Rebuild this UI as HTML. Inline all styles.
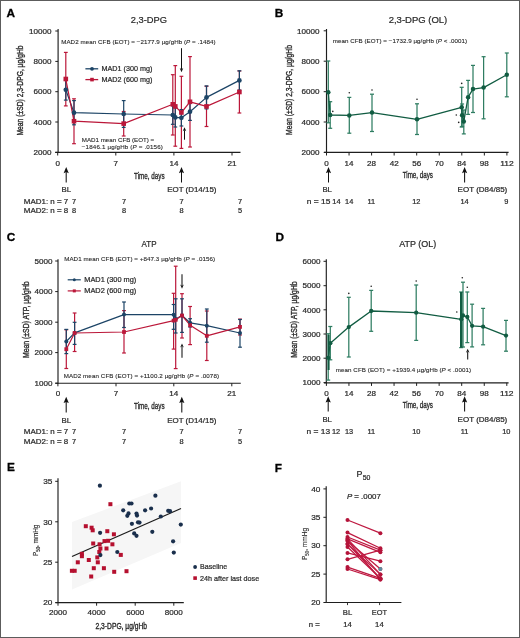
<!DOCTYPE html>
<html><head><meta charset="utf-8"><title>Figure</title>
<style>
html,body{margin:0;padding:0;background:#fff;}
#fig{position:relative;width:520px;height:638px;overflow:hidden;box-sizing:border-box;border:1px solid #5c5c5c;background:#fff;}
svg{position:absolute;left:-1px;top:-1px;will-change:transform;}
text{font-family:"Liberation Sans", sans-serif;fill:#2a2a2a;stroke:#2a2a2a;stroke-width:0.22px;}
</style></head><body>
<div id="fig">
<svg width="520" height="638" viewBox="0 0 520 638">
<text x="6.60" y="16.60" font-size="11.8" font-weight="bold" fill="#000" style="fill:#000;stroke:#000;stroke-width:0.3">A</text>
<text x="130.80" y="22.80" font-size="9.4" textLength="36.20" lengthAdjust="spacingAndGlyphs">2,3-DPG</text>
<line x1="58.10" y1="29.00" x2="58.10" y2="152.90" stroke="#1e1e1e" stroke-width="1.15"/>
<line x1="55.30" y1="31.00" x2="58.10" y2="31.00" stroke="#1e1e1e" stroke-width="1.0"/>
<text x="51.60" y="33.70" font-size="7.6" text-anchor="end" textLength="22.50" lengthAdjust="spacingAndGlyphs">10000</text>
<line x1="55.30" y1="61.40" x2="58.10" y2="61.40" stroke="#1e1e1e" stroke-width="1.0"/>
<text x="51.60" y="64.10" font-size="7.6" text-anchor="end" textLength="18.00" lengthAdjust="spacingAndGlyphs">8000</text>
<line x1="55.30" y1="91.70" x2="58.10" y2="91.70" stroke="#1e1e1e" stroke-width="1.0"/>
<text x="51.60" y="94.40" font-size="7.6" text-anchor="end" textLength="18.00" lengthAdjust="spacingAndGlyphs">6000</text>
<line x1="55.30" y1="122.00" x2="58.10" y2="122.00" stroke="#1e1e1e" stroke-width="1.0"/>
<text x="51.60" y="124.70" font-size="7.6" text-anchor="end" textLength="18.00" lengthAdjust="spacingAndGlyphs">4000</text>
<line x1="55.30" y1="152.40" x2="58.10" y2="152.40" stroke="#1e1e1e" stroke-width="1.0"/>
<text x="51.60" y="155.10" font-size="7.6" text-anchor="end" textLength="18.00" lengthAdjust="spacingAndGlyphs">2000</text>
<text x="23.30" y="135.50" font-size="9.0" textLength="90.00" lengthAdjust="spacingAndGlyphs" transform="rotate(-90 23.30 135.50)" style="stroke-width:0.35">Mean (±SD) 2,3-DPG, µg/gHb</text>
<line x1="55.20" y1="152.40" x2="240.50" y2="152.40" stroke="#1e1e1e" stroke-width="1.15"/>
<line x1="57.70" y1="152.40" x2="57.70" y2="155.50" stroke="#1e1e1e" stroke-width="1.0"/>
<text x="57.70" y="165.60" font-size="7.6" text-anchor="middle" textLength="4.50" lengthAdjust="spacingAndGlyphs">0</text>
<line x1="115.80" y1="152.40" x2="115.80" y2="155.50" stroke="#1e1e1e" stroke-width="1.0"/>
<text x="115.80" y="165.60" font-size="7.6" text-anchor="middle" textLength="4.50" lengthAdjust="spacingAndGlyphs">7</text>
<line x1="173.90" y1="152.40" x2="173.90" y2="155.50" stroke="#1e1e1e" stroke-width="1.0"/>
<text x="173.90" y="165.60" font-size="7.6" text-anchor="middle" textLength="9.00" lengthAdjust="spacingAndGlyphs">14</text>
<line x1="232.00" y1="152.40" x2="232.00" y2="155.50" stroke="#1e1e1e" stroke-width="1.0"/>
<text x="232.00" y="165.60" font-size="7.6" text-anchor="middle" textLength="9.00" lengthAdjust="spacingAndGlyphs">21</text>
<text x="134.10" y="178.60" font-size="9.2" textLength="30.50" lengthAdjust="spacingAndGlyphs" style="stroke-width:0.35">Time, days</text>
<line x1="66.20" y1="169.90" x2="66.20" y2="182.50" stroke="#111" stroke-width="1.05"/>
<path d="M63.60,173.20 L66.20,166.90 L68.80,173.20 L66.20,172.00 Z" fill="#111"/>
<line x1="181.50" y1="169.90" x2="181.50" y2="182.50" stroke="#111" stroke-width="1.05"/>
<path d="M178.90,173.20 L181.50,166.90 L184.10,173.20 L181.50,172.00 Z" fill="#111"/>
<text x="66.30" y="191.60" font-size="7.6" text-anchor="middle" textLength="9.60" lengthAdjust="spacingAndGlyphs">BL</text>
<text x="167.20" y="191.70" font-size="7.6" textLength="49.30" lengthAdjust="spacingAndGlyphs">EOT (D14/15)</text>
<text x="23.80" y="203.80" font-size="7.4" textLength="44.50" lengthAdjust="spacingAndGlyphs">MAD1: n = 7</text>
<text x="23.80" y="213.00" font-size="7.4" textLength="44.50" lengthAdjust="spacingAndGlyphs">MAD2: n = 8</text>
<text x="74.00" y="203.80" font-size="7.4" text-anchor="middle">7</text>
<text x="74.00" y="213.00" font-size="7.4" text-anchor="middle">8</text>
<text x="124.00" y="203.80" font-size="7.4" text-anchor="middle">7</text>
<text x="124.00" y="213.00" font-size="7.4" text-anchor="middle">8</text>
<text x="181.60" y="203.80" font-size="7.4" text-anchor="middle">7</text>
<text x="181.60" y="213.00" font-size="7.4" text-anchor="middle">8</text>
<text x="240.00" y="203.80" font-size="7.4" text-anchor="middle">7</text>
<text x="240.00" y="213.00" font-size="7.4" text-anchor="middle">5</text>
<text x="61.20" y="43.60" font-size="6.2" textLength="154.30" lengthAdjust="spacing" style="stroke-width:0.12">MAD2 mean CFB (EOT) = −2177.9 µg/gHb (<tspan font-style="italic">P</tspan> = .1484)</text>
<text x="81.80" y="141.80" font-size="6.2" textLength="72.40" lengthAdjust="spacing" style="stroke-width:0.12">MAD1 mean CFB (EOT) =</text>
<text x="81.80" y="149.30" font-size="6.2" textLength="81.00" lengthAdjust="spacing" style="stroke-width:0.12">−1846.1 µg/gHb (<tspan font-style="italic">P</tspan> = .0156)</text>
<line x1="181.50" y1="48.20" x2="181.50" y2="69.20" stroke="#111" stroke-width="1.05"/>
<path d="M179.70,68.00 L181.50,72.20 L183.30,68.00 L181.50,69.20 Z" fill="#111"/>
<line x1="184.50" y1="130.20" x2="184.50" y2="139.70" stroke="#111" stroke-width="1.05"/>
<path d="M182.70,131.20 L184.50,127.20 L186.30,131.20 L184.50,130.00 Z" fill="#111"/>
<line x1="65.80" y1="52.40" x2="65.80" y2="105.90" stroke="#bb1739" stroke-width="1.2"/>
<line x1="63.90" y1="52.40" x2="67.70" y2="52.40" stroke="#bb1739" stroke-width="1.2"/>
<line x1="63.90" y1="105.90" x2="67.70" y2="105.90" stroke="#bb1739" stroke-width="1.2"/>
<line x1="74.00" y1="98.80" x2="74.00" y2="143.70" stroke="#bb1739" stroke-width="1.2"/>
<line x1="72.10" y1="98.80" x2="75.90" y2="98.80" stroke="#bb1739" stroke-width="1.2"/>
<line x1="72.10" y1="143.70" x2="75.90" y2="143.70" stroke="#bb1739" stroke-width="1.2"/>
<line x1="123.70" y1="111.50" x2="123.70" y2="136.00" stroke="#bb1739" stroke-width="1.2"/>
<line x1="121.80" y1="111.50" x2="125.60" y2="111.50" stroke="#bb1739" stroke-width="1.2"/>
<line x1="121.80" y1="136.00" x2="125.60" y2="136.00" stroke="#bb1739" stroke-width="1.2"/>
<line x1="172.80" y1="74.70" x2="172.80" y2="135.00" stroke="#bb1739" stroke-width="1.2"/>
<line x1="170.90" y1="74.70" x2="174.70" y2="74.70" stroke="#bb1739" stroke-width="1.2"/>
<line x1="170.90" y1="135.00" x2="174.70" y2="135.00" stroke="#bb1739" stroke-width="1.2"/>
<line x1="175.30" y1="65.60" x2="175.30" y2="146.20" stroke="#bb1739" stroke-width="1.2"/>
<line x1="173.40" y1="65.60" x2="177.20" y2="65.60" stroke="#bb1739" stroke-width="1.2"/>
<line x1="173.40" y1="146.20" x2="177.20" y2="146.20" stroke="#bb1739" stroke-width="1.2"/>
<line x1="181.40" y1="76.30" x2="181.40" y2="148.40" stroke="#bb1739" stroke-width="1.2"/>
<line x1="179.50" y1="76.30" x2="183.30" y2="76.30" stroke="#bb1739" stroke-width="1.2"/>
<line x1="179.50" y1="148.40" x2="183.30" y2="148.40" stroke="#bb1739" stroke-width="1.2"/>
<line x1="190.00" y1="56.60" x2="190.00" y2="147.00" stroke="#bb1739" stroke-width="1.2"/>
<line x1="188.10" y1="56.60" x2="191.90" y2="56.60" stroke="#bb1739" stroke-width="1.2"/>
<line x1="188.10" y1="147.00" x2="191.90" y2="147.00" stroke="#bb1739" stroke-width="1.2"/>
<line x1="206.50" y1="86.30" x2="206.50" y2="126.50" stroke="#bb1739" stroke-width="1.2"/>
<line x1="204.60" y1="86.30" x2="208.40" y2="86.30" stroke="#bb1739" stroke-width="1.2"/>
<line x1="204.60" y1="126.50" x2="208.40" y2="126.50" stroke="#bb1739" stroke-width="1.2"/>
<line x1="239.40" y1="71.00" x2="239.40" y2="113.00" stroke="#bb1739" stroke-width="1.2"/>
<line x1="237.50" y1="71.00" x2="241.30" y2="71.00" stroke="#bb1739" stroke-width="1.2"/>
<line x1="237.50" y1="113.00" x2="241.30" y2="113.00" stroke="#bb1739" stroke-width="1.2"/>
<line x1="65.80" y1="80.00" x2="65.80" y2="100.10" stroke="#1c4466" stroke-width="1.2"/>
<line x1="63.90" y1="80.00" x2="67.70" y2="80.00" stroke="#1c4466" stroke-width="1.2"/>
<line x1="63.90" y1="100.10" x2="67.70" y2="100.10" stroke="#1c4466" stroke-width="1.2"/>
<line x1="74.00" y1="100.60" x2="74.00" y2="124.80" stroke="#1c4466" stroke-width="1.2"/>
<line x1="72.10" y1="100.60" x2="75.90" y2="100.60" stroke="#1c4466" stroke-width="1.2"/>
<line x1="72.10" y1="124.80" x2="75.90" y2="124.80" stroke="#1c4466" stroke-width="1.2"/>
<line x1="123.70" y1="100.60" x2="123.70" y2="127.40" stroke="#1c4466" stroke-width="1.2"/>
<line x1="121.80" y1="100.60" x2="125.60" y2="100.60" stroke="#1c4466" stroke-width="1.2"/>
<line x1="121.80" y1="127.40" x2="125.60" y2="127.40" stroke="#1c4466" stroke-width="1.2"/>
<line x1="172.80" y1="105.70" x2="172.80" y2="124.30" stroke="#1c4466" stroke-width="1.2"/>
<line x1="170.90" y1="105.70" x2="174.70" y2="105.70" stroke="#1c4466" stroke-width="1.2"/>
<line x1="170.90" y1="124.30" x2="174.70" y2="124.30" stroke="#1c4466" stroke-width="1.2"/>
<line x1="175.30" y1="107.80" x2="175.30" y2="127.00" stroke="#1c4466" stroke-width="1.2"/>
<line x1="173.40" y1="107.80" x2="177.20" y2="107.80" stroke="#1c4466" stroke-width="1.2"/>
<line x1="173.40" y1="127.00" x2="177.20" y2="127.00" stroke="#1c4466" stroke-width="1.2"/>
<line x1="181.40" y1="109.60" x2="181.40" y2="126.00" stroke="#1c4466" stroke-width="1.2"/>
<line x1="179.50" y1="109.60" x2="183.30" y2="109.60" stroke="#1c4466" stroke-width="1.2"/>
<line x1="179.50" y1="126.00" x2="183.30" y2="126.00" stroke="#1c4466" stroke-width="1.2"/>
<line x1="190.00" y1="103.00" x2="190.00" y2="120.40" stroke="#1c4466" stroke-width="1.2"/>
<line x1="188.10" y1="103.00" x2="191.90" y2="103.00" stroke="#1c4466" stroke-width="1.2"/>
<line x1="188.10" y1="120.40" x2="191.90" y2="120.40" stroke="#1c4466" stroke-width="1.2"/>
<line x1="206.50" y1="85.90" x2="206.50" y2="108.90" stroke="#1c4466" stroke-width="1.2"/>
<line x1="204.60" y1="85.90" x2="208.40" y2="85.90" stroke="#1c4466" stroke-width="1.2"/>
<line x1="204.60" y1="108.90" x2="208.40" y2="108.90" stroke="#1c4466" stroke-width="1.2"/>
<line x1="239.40" y1="70.80" x2="239.40" y2="90.00" stroke="#1c4466" stroke-width="1.2"/>
<line x1="237.50" y1="70.80" x2="241.30" y2="70.80" stroke="#1c4466" stroke-width="1.2"/>
<line x1="237.50" y1="90.00" x2="241.30" y2="90.00" stroke="#1c4466" stroke-width="1.2"/>
<polyline points="65.80,89.80 74.00,112.70 123.70,114.00 172.80,115.00 175.30,117.40 181.40,117.80 190.00,111.70 206.50,97.40 239.40,80.40" fill="none" stroke="#1c4466" stroke-width="1.2" stroke-linejoin="round"/>
<polyline points="65.80,79.00 74.00,121.20 123.70,123.60 172.80,104.30 175.30,106.40 181.40,112.50 190.00,101.80 206.50,106.40 239.40,92.00" fill="none" stroke="#bb1739" stroke-width="1.2" stroke-linejoin="round"/>
<circle cx="65.80" cy="89.80" r="2.35" fill="#1c4466"/>
<circle cx="74.00" cy="112.70" r="2.35" fill="#1c4466"/>
<circle cx="123.70" cy="114.00" r="2.35" fill="#1c4466"/>
<circle cx="172.80" cy="115.00" r="2.35" fill="#1c4466"/>
<circle cx="175.30" cy="117.40" r="2.35" fill="#1c4466"/>
<circle cx="181.40" cy="117.80" r="2.35" fill="#1c4466"/>
<circle cx="190.00" cy="111.70" r="2.35" fill="#1c4466"/>
<circle cx="206.50" cy="97.40" r="2.35" fill="#1c4466"/>
<circle cx="239.40" cy="80.40" r="2.35" fill="#1c4466"/>
<rect x="63.50" y="76.70" width="4.6" height="4.6" fill="#bb1739"/>
<rect x="71.70" y="118.90" width="4.6" height="4.6" fill="#bb1739"/>
<rect x="121.40" y="121.30" width="4.6" height="4.6" fill="#bb1739"/>
<rect x="170.50" y="102.00" width="4.6" height="4.6" fill="#bb1739"/>
<rect x="173.00" y="104.10" width="4.6" height="4.6" fill="#bb1739"/>
<rect x="179.10" y="110.20" width="4.6" height="4.6" fill="#bb1739"/>
<rect x="187.70" y="99.50" width="4.6" height="4.6" fill="#bb1739"/>
<rect x="204.20" y="104.10" width="4.6" height="4.6" fill="#bb1739"/>
<rect x="237.10" y="89.70" width="4.6" height="4.6" fill="#bb1739"/>
<line x1="85.40" y1="68.80" x2="98.20" y2="68.80" stroke="#1c4466" stroke-width="1.3"/>
<circle cx="92.00" cy="68.80" r="1.9" fill="#1c4466"/>
<text x="101.50" y="71.30" font-size="7.3" textLength="50.80" lengthAdjust="spacingAndGlyphs">MAD1 (300 mg)</text>
<line x1="85.40" y1="79.60" x2="98.20" y2="79.60" stroke="#bb1739" stroke-width="1.3"/>
<rect x="90.20" y="77.80" width="3.6" height="3.6" fill="#bb1739"/>
<text x="101.50" y="82.10" font-size="7.3" textLength="50.80" lengthAdjust="spacingAndGlyphs">MAD2 (600 mg)</text>
<text x="274.70" y="16.60" font-size="11.8" font-weight="bold" fill="#000" style="fill:#000;stroke:#000;stroke-width:0.3">B</text>
<text x="388.70" y="22.70" font-size="9.4" textLength="58.60" lengthAdjust="spacingAndGlyphs">2,3-DPG (OL)</text>
<line x1="326.50" y1="29.00" x2="326.50" y2="152.90" stroke="#1e1e1e" stroke-width="1.15"/>
<line x1="323.70" y1="30.80" x2="326.50" y2="30.80" stroke="#1e1e1e" stroke-width="1.0"/>
<text x="319.60" y="33.50" font-size="7.6" text-anchor="end" textLength="22.50" lengthAdjust="spacingAndGlyphs">10000</text>
<line x1="323.70" y1="61.20" x2="326.50" y2="61.20" stroke="#1e1e1e" stroke-width="1.0"/>
<text x="319.60" y="63.90" font-size="7.6" text-anchor="end" textLength="18.00" lengthAdjust="spacingAndGlyphs">8000</text>
<line x1="323.70" y1="91.70" x2="326.50" y2="91.70" stroke="#1e1e1e" stroke-width="1.0"/>
<text x="319.60" y="94.40" font-size="7.6" text-anchor="end" textLength="18.00" lengthAdjust="spacingAndGlyphs">6000</text>
<line x1="323.70" y1="122.00" x2="326.50" y2="122.00" stroke="#1e1e1e" stroke-width="1.0"/>
<text x="319.60" y="124.70" font-size="7.6" text-anchor="end" textLength="18.00" lengthAdjust="spacingAndGlyphs">4000</text>
<line x1="323.70" y1="152.40" x2="326.50" y2="152.40" stroke="#1e1e1e" stroke-width="1.0"/>
<text x="319.60" y="155.10" font-size="7.6" text-anchor="end" textLength="18.00" lengthAdjust="spacingAndGlyphs">2000</text>
<text x="291.80" y="134.90" font-size="9.0" textLength="89.80" lengthAdjust="spacingAndGlyphs" transform="rotate(-90 291.80 134.90)" style="stroke-width:0.35">Mean (±SD) 2,3-DPG, µg/gHb</text>
<line x1="324.00" y1="152.40" x2="508.60" y2="152.40" stroke="#1e1e1e" stroke-width="1.15"/>
<line x1="326.50" y1="152.40" x2="326.50" y2="155.50" stroke="#1e1e1e" stroke-width="1.0"/>
<text x="326.50" y="165.60" font-size="7.6" text-anchor="middle" textLength="4.50" lengthAdjust="spacingAndGlyphs">0</text>
<line x1="349.05" y1="152.40" x2="349.05" y2="155.50" stroke="#1e1e1e" stroke-width="1.0"/>
<text x="349.05" y="165.60" font-size="7.6" text-anchor="middle" textLength="9.00" lengthAdjust="spacingAndGlyphs">14</text>
<line x1="371.60" y1="152.40" x2="371.60" y2="155.50" stroke="#1e1e1e" stroke-width="1.0"/>
<text x="371.60" y="165.60" font-size="7.6" text-anchor="middle" textLength="9.00" lengthAdjust="spacingAndGlyphs">28</text>
<line x1="394.15" y1="152.40" x2="394.15" y2="155.50" stroke="#1e1e1e" stroke-width="1.0"/>
<text x="394.15" y="165.60" font-size="7.6" text-anchor="middle" textLength="9.00" lengthAdjust="spacingAndGlyphs">42</text>
<line x1="416.70" y1="152.40" x2="416.70" y2="155.50" stroke="#1e1e1e" stroke-width="1.0"/>
<text x="416.70" y="165.60" font-size="7.6" text-anchor="middle" textLength="9.00" lengthAdjust="spacingAndGlyphs">56</text>
<line x1="439.25" y1="152.40" x2="439.25" y2="155.50" stroke="#1e1e1e" stroke-width="1.0"/>
<text x="439.25" y="165.60" font-size="7.6" text-anchor="middle" textLength="9.00" lengthAdjust="spacingAndGlyphs">70</text>
<line x1="461.80" y1="152.40" x2="461.80" y2="155.50" stroke="#1e1e1e" stroke-width="1.0"/>
<text x="461.80" y="165.60" font-size="7.6" text-anchor="middle" textLength="9.00" lengthAdjust="spacingAndGlyphs">84</text>
<line x1="484.35" y1="152.40" x2="484.35" y2="155.50" stroke="#1e1e1e" stroke-width="1.0"/>
<text x="484.35" y="165.60" font-size="7.6" text-anchor="middle" textLength="9.00" lengthAdjust="spacingAndGlyphs">98</text>
<line x1="506.90" y1="152.40" x2="506.90" y2="155.50" stroke="#1e1e1e" stroke-width="1.0"/>
<text x="506.90" y="165.60" font-size="7.6" text-anchor="middle" textLength="13.50" lengthAdjust="spacingAndGlyphs">112</text>
<text x="402.70" y="178.20" font-size="9.2" textLength="30.30" lengthAdjust="spacingAndGlyphs" style="stroke-width:0.35">Time, days</text>
<line x1="328.50" y1="169.90" x2="328.50" y2="182.50" stroke="#111" stroke-width="1.05"/>
<path d="M325.90,173.20 L328.50,166.90 L331.10,173.20 L328.50,172.00 Z" fill="#111"/>
<line x1="464.60" y1="169.90" x2="464.60" y2="182.50" stroke="#111" stroke-width="1.05"/>
<path d="M462.00,173.20 L464.60,166.90 L467.20,173.20 L464.60,172.00 Z" fill="#111"/>
<text x="327.20" y="191.80" font-size="7.6" text-anchor="middle" textLength="9.60" lengthAdjust="spacingAndGlyphs">BL</text>
<text x="457.60" y="191.80" font-size="7.6" textLength="49.70" lengthAdjust="spacingAndGlyphs">EOT (D84/85)</text>
<text x="306.80" y="203.70" font-size="7.4" textLength="23.60" lengthAdjust="spacingAndGlyphs">n = 15</text>
<text x="336.40" y="203.70" font-size="7.4" text-anchor="middle">14</text>
<text x="349.20" y="203.70" font-size="7.4" text-anchor="middle">14</text>
<text x="371.30" y="203.70" font-size="7.4" text-anchor="middle">11</text>
<text x="416.30" y="203.70" font-size="7.4" text-anchor="middle">12</text>
<text x="464.60" y="203.70" font-size="7.4" text-anchor="middle">14</text>
<text x="506.30" y="203.70" font-size="7.4" text-anchor="middle">9</text>
<text x="332.70" y="43.00" font-size="6.2" textLength="134.30" lengthAdjust="spacing" style="stroke-width:0.12">mean CFB (EOT) = −1732.9 µg/gHb (<tspan font-style="italic">P</tspan> &lt; .0001)</text>
<line x1="328.30" y1="61.00" x2="328.30" y2="122.80" stroke="#2f7d62" stroke-width="1.25"/>
<line x1="326.30" y1="61.00" x2="330.30" y2="61.00" stroke="#2f7d62" stroke-width="1.25"/>
<line x1="326.30" y1="122.80" x2="330.30" y2="122.80" stroke="#2f7d62" stroke-width="1.25"/>
<line x1="330.20" y1="101.70" x2="330.20" y2="128.30" stroke="#2f7d62" stroke-width="1.25"/>
<line x1="328.20" y1="101.70" x2="332.20" y2="101.70" stroke="#2f7d62" stroke-width="1.25"/>
<line x1="328.20" y1="128.30" x2="332.20" y2="128.30" stroke="#2f7d62" stroke-width="1.25"/>
<line x1="349.30" y1="97.40" x2="349.30" y2="133.20" stroke="#2f7d62" stroke-width="1.25"/>
<line x1="347.30" y1="97.40" x2="351.30" y2="97.40" stroke="#2f7d62" stroke-width="1.25"/>
<line x1="347.30" y1="133.20" x2="351.30" y2="133.20" stroke="#2f7d62" stroke-width="1.25"/>
<line x1="372.00" y1="94.20" x2="372.00" y2="131.50" stroke="#2f7d62" stroke-width="1.25"/>
<line x1="370.00" y1="94.20" x2="374.00" y2="94.20" stroke="#2f7d62" stroke-width="1.25"/>
<line x1="370.00" y1="131.50" x2="374.00" y2="131.50" stroke="#2f7d62" stroke-width="1.25"/>
<line x1="417.00" y1="103.80" x2="417.00" y2="134.50" stroke="#2f7d62" stroke-width="1.25"/>
<line x1="415.00" y1="103.80" x2="419.00" y2="103.80" stroke="#2f7d62" stroke-width="1.25"/>
<line x1="415.00" y1="134.50" x2="419.00" y2="134.50" stroke="#2f7d62" stroke-width="1.25"/>
<line x1="461.70" y1="87.30" x2="461.70" y2="127.00" stroke="#2f7d62" stroke-width="1.25"/>
<line x1="459.70" y1="87.30" x2="463.70" y2="87.30" stroke="#2f7d62" stroke-width="1.25"/>
<line x1="459.70" y1="127.00" x2="463.70" y2="127.00" stroke="#2f7d62" stroke-width="1.25"/>
<line x1="462.10" y1="104.00" x2="462.10" y2="126.50" stroke="#2f7d62" stroke-width="1.25"/>
<line x1="460.10" y1="104.00" x2="464.10" y2="104.00" stroke="#2f7d62" stroke-width="1.25"/>
<line x1="460.10" y1="126.50" x2="464.10" y2="126.50" stroke="#2f7d62" stroke-width="1.25"/>
<line x1="463.80" y1="110.00" x2="463.80" y2="133.90" stroke="#2f7d62" stroke-width="1.25"/>
<line x1="461.80" y1="110.00" x2="465.80" y2="110.00" stroke="#2f7d62" stroke-width="1.25"/>
<line x1="461.80" y1="133.90" x2="465.80" y2="133.90" stroke="#2f7d62" stroke-width="1.25"/>
<line x1="468.10" y1="80.40" x2="468.10" y2="114.40" stroke="#2f7d62" stroke-width="1.25"/>
<line x1="466.10" y1="80.40" x2="470.10" y2="80.40" stroke="#2f7d62" stroke-width="1.25"/>
<line x1="466.10" y1="114.40" x2="470.10" y2="114.40" stroke="#2f7d62" stroke-width="1.25"/>
<line x1="473.00" y1="65.40" x2="473.00" y2="112.50" stroke="#2f7d62" stroke-width="1.25"/>
<line x1="471.00" y1="65.40" x2="475.00" y2="65.40" stroke="#2f7d62" stroke-width="1.25"/>
<line x1="471.00" y1="112.50" x2="475.00" y2="112.50" stroke="#2f7d62" stroke-width="1.25"/>
<line x1="483.60" y1="56.70" x2="483.60" y2="118.80" stroke="#2f7d62" stroke-width="1.25"/>
<line x1="481.60" y1="56.70" x2="485.60" y2="56.70" stroke="#2f7d62" stroke-width="1.25"/>
<line x1="481.60" y1="118.80" x2="485.60" y2="118.80" stroke="#2f7d62" stroke-width="1.25"/>
<line x1="506.80" y1="53.00" x2="506.80" y2="96.80" stroke="#2f7d62" stroke-width="1.25"/>
<line x1="504.80" y1="53.00" x2="508.80" y2="53.00" stroke="#2f7d62" stroke-width="1.25"/>
<line x1="504.80" y1="96.80" x2="508.80" y2="96.80" stroke="#2f7d62" stroke-width="1.25"/>
<polyline points="328.30,92.20 330.20,115.00 349.30,115.40 372.00,112.60 417.00,119.30 461.70,107.30 462.10,115.20 463.80,121.50 468.10,97.20 473.00,89.10 483.60,87.60 506.80,74.80" fill="none" stroke="#115c42" stroke-width="1.3" stroke-linejoin="round"/>
<circle cx="328.30" cy="92.20" r="2.25" fill="#115c42"/>
<circle cx="330.20" cy="115.00" r="2.25" fill="#115c42"/>
<circle cx="349.30" cy="115.40" r="2.25" fill="#115c42"/>
<circle cx="372.00" cy="112.60" r="2.25" fill="#115c42"/>
<circle cx="417.00" cy="119.30" r="2.25" fill="#115c42"/>
<circle cx="461.70" cy="107.30" r="2.25" fill="#115c42"/>
<circle cx="462.10" cy="115.20" r="2.25" fill="#115c42"/>
<circle cx="463.80" cy="121.50" r="2.25" fill="#115c42"/>
<circle cx="468.10" cy="97.20" r="2.25" fill="#115c42"/>
<circle cx="473.00" cy="89.10" r="2.25" fill="#115c42"/>
<circle cx="483.60" cy="87.60" r="2.25" fill="#115c42"/>
<circle cx="506.80" cy="74.80" r="2.25" fill="#115c42"/>
<circle cx="332.80" cy="111.40" r="0.8" fill="#222"/>
<circle cx="349.30" cy="92.80" r="0.8" fill="#222"/>
<circle cx="372.00" cy="90.00" r="0.8" fill="#222"/>
<circle cx="417.00" cy="99.20" r="0.8" fill="#222"/>
<circle cx="461.70" cy="83.40" r="0.8" fill="#222"/>
<circle cx="456.30" cy="115.00" r="0.8" fill="#222"/>
<circle cx="458.70" cy="122.40" r="0.8" fill="#222"/>
<text x="6.80" y="240.90" font-size="11.8" font-weight="bold" fill="#000" style="fill:#000;stroke:#000;stroke-width:0.3">C</text>
<text x="141.50" y="246.90" font-size="9.4" textLength="15.00" lengthAdjust="spacingAndGlyphs">ATP</text>
<line x1="58.00" y1="259.20" x2="58.00" y2="383.70" stroke="#1e1e1e" stroke-width="1.15"/>
<line x1="55.20" y1="261.00" x2="58.00" y2="261.00" stroke="#1e1e1e" stroke-width="1.0"/>
<text x="52.40" y="263.70" font-size="7.6" text-anchor="end" textLength="18.00" lengthAdjust="spacingAndGlyphs">5000</text>
<line x1="55.20" y1="291.60" x2="58.00" y2="291.60" stroke="#1e1e1e" stroke-width="1.0"/>
<text x="52.40" y="294.30" font-size="7.6" text-anchor="end" textLength="18.00" lengthAdjust="spacingAndGlyphs">4000</text>
<line x1="55.20" y1="322.20" x2="58.00" y2="322.20" stroke="#1e1e1e" stroke-width="1.0"/>
<text x="52.40" y="324.90" font-size="7.6" text-anchor="end" textLength="18.00" lengthAdjust="spacingAndGlyphs">3000</text>
<line x1="55.20" y1="352.60" x2="58.00" y2="352.60" stroke="#1e1e1e" stroke-width="1.0"/>
<text x="52.40" y="355.30" font-size="7.6" text-anchor="end" textLength="18.00" lengthAdjust="spacingAndGlyphs">2000</text>
<line x1="55.20" y1="383.20" x2="58.00" y2="383.20" stroke="#1e1e1e" stroke-width="1.0"/>
<text x="52.40" y="385.90" font-size="7.6" text-anchor="end" textLength="18.00" lengthAdjust="spacingAndGlyphs">1000</text>
<text x="28.60" y="358.10" font-size="9.0" textLength="76.80" lengthAdjust="spacingAndGlyphs" transform="rotate(-90 28.60 358.10)" style="stroke-width:0.35">Mean (±SD) ATP, µg/gHb</text>
<line x1="55.30" y1="383.20" x2="240.80" y2="383.20" stroke="#1e1e1e" stroke-width="1.15"/>
<line x1="57.90" y1="383.20" x2="57.90" y2="386.30" stroke="#1e1e1e" stroke-width="1.0"/>
<text x="57.90" y="395.80" font-size="7.6" text-anchor="middle" textLength="4.50" lengthAdjust="spacingAndGlyphs">0</text>
<line x1="116.00" y1="383.20" x2="116.00" y2="386.30" stroke="#1e1e1e" stroke-width="1.0"/>
<text x="116.00" y="395.80" font-size="7.6" text-anchor="middle" textLength="4.50" lengthAdjust="spacingAndGlyphs">7</text>
<line x1="173.80" y1="383.20" x2="173.80" y2="386.30" stroke="#1e1e1e" stroke-width="1.0"/>
<text x="173.80" y="395.80" font-size="7.6" text-anchor="middle" textLength="9.00" lengthAdjust="spacingAndGlyphs">14</text>
<line x1="231.80" y1="383.20" x2="231.80" y2="386.30" stroke="#1e1e1e" stroke-width="1.0"/>
<text x="231.80" y="395.80" font-size="7.6" text-anchor="middle" textLength="9.00" lengthAdjust="spacingAndGlyphs">21</text>
<text x="134.10" y="408.60" font-size="9.2" textLength="30.50" lengthAdjust="spacingAndGlyphs" style="stroke-width:0.35">Time, days</text>
<line x1="66.20" y1="399.80" x2="66.20" y2="412.50" stroke="#111" stroke-width="1.05"/>
<path d="M63.60,403.10 L66.20,396.80 L68.80,403.10 L66.20,401.90 Z" fill="#111"/>
<line x1="181.80" y1="399.80" x2="181.80" y2="412.50" stroke="#111" stroke-width="1.05"/>
<path d="M179.20,403.10 L181.80,396.80 L184.40,403.10 L181.80,401.90 Z" fill="#111"/>
<text x="66.30" y="422.50" font-size="7.6" text-anchor="middle" textLength="9.60" lengthAdjust="spacingAndGlyphs">BL</text>
<text x="167.20" y="422.50" font-size="7.6" textLength="49.30" lengthAdjust="spacingAndGlyphs">EOT (D14/15)</text>
<text x="23.80" y="433.90" font-size="7.4" textLength="44.50" lengthAdjust="spacingAndGlyphs">MAD1: n = 7</text>
<text x="23.80" y="443.60" font-size="7.4" textLength="44.50" lengthAdjust="spacingAndGlyphs">MAD2: n = 8</text>
<text x="74.00" y="433.90" font-size="7.4" text-anchor="middle">7</text>
<text x="74.00" y="443.60" font-size="7.4" text-anchor="middle">7</text>
<text x="124.00" y="433.90" font-size="7.4" text-anchor="middle">7</text>
<text x="124.00" y="443.60" font-size="7.4" text-anchor="middle">7</text>
<text x="181.60" y="433.90" font-size="7.4" text-anchor="middle">7</text>
<text x="181.60" y="443.60" font-size="7.4" text-anchor="middle">8</text>
<text x="240.00" y="433.90" font-size="7.4" text-anchor="middle">7</text>
<text x="240.00" y="443.60" font-size="7.4" text-anchor="middle">5</text>
<text x="64.20" y="260.70" font-size="6.2" textLength="150.80" lengthAdjust="spacing" style="stroke-width:0.12">MAD1 mean CFB (EOT) = +847.3 µg/gHb (<tspan font-style="italic">P</tspan> = .0156)</text>
<text x="63.70" y="377.80" font-size="6.2" textLength="155.30" lengthAdjust="spacing" style="stroke-width:0.12">MAD2 mean CFB (EOT) = +1100.2 µg/gHb (<tspan font-style="italic">P</tspan> = .0078)</text>
<line x1="182.00" y1="274.30" x2="182.00" y2="285.80" stroke="#111" stroke-width="1.05"/>
<path d="M180.20,284.60 L182.00,288.80 L183.80,284.60 L182.00,285.80 Z" fill="#111"/>
<line x1="182.00" y1="346.40" x2="182.00" y2="357.80" stroke="#111" stroke-width="1.05"/>
<path d="M180.20,347.40 L182.00,343.40 L183.80,347.40 L182.00,346.20 Z" fill="#111"/>
<line x1="66.30" y1="329.80" x2="66.30" y2="368.50" stroke="#bb1739" stroke-width="1.2"/>
<line x1="64.40" y1="329.80" x2="68.20" y2="329.80" stroke="#bb1739" stroke-width="1.2"/>
<line x1="64.40" y1="368.50" x2="68.20" y2="368.50" stroke="#bb1739" stroke-width="1.2"/>
<line x1="74.60" y1="313.00" x2="74.60" y2="351.50" stroke="#bb1739" stroke-width="1.2"/>
<line x1="72.70" y1="313.00" x2="76.50" y2="313.00" stroke="#bb1739" stroke-width="1.2"/>
<line x1="72.70" y1="351.50" x2="76.50" y2="351.50" stroke="#bb1739" stroke-width="1.2"/>
<line x1="124.00" y1="310.60" x2="124.00" y2="353.00" stroke="#bb1739" stroke-width="1.2"/>
<line x1="122.10" y1="310.60" x2="125.90" y2="310.60" stroke="#bb1739" stroke-width="1.2"/>
<line x1="122.10" y1="353.00" x2="125.90" y2="353.00" stroke="#bb1739" stroke-width="1.2"/>
<line x1="173.60" y1="293.30" x2="173.60" y2="349.10" stroke="#bb1739" stroke-width="1.2"/>
<line x1="171.70" y1="293.30" x2="175.50" y2="293.30" stroke="#bb1739" stroke-width="1.2"/>
<line x1="171.70" y1="349.10" x2="175.50" y2="349.10" stroke="#bb1739" stroke-width="1.2"/>
<line x1="175.70" y1="266.20" x2="175.70" y2="368.60" stroke="#bb1739" stroke-width="1.2"/>
<line x1="173.80" y1="266.20" x2="177.60" y2="266.20" stroke="#bb1739" stroke-width="1.2"/>
<line x1="173.80" y1="368.60" x2="177.60" y2="368.60" stroke="#bb1739" stroke-width="1.2"/>
<line x1="182.00" y1="293.70" x2="182.00" y2="338.00" stroke="#bb1739" stroke-width="1.2"/>
<line x1="180.10" y1="293.70" x2="183.90" y2="293.70" stroke="#bb1739" stroke-width="1.2"/>
<line x1="180.10" y1="338.00" x2="183.90" y2="338.00" stroke="#bb1739" stroke-width="1.2"/>
<line x1="190.10" y1="306.50" x2="190.10" y2="344.60" stroke="#bb1739" stroke-width="1.2"/>
<line x1="188.20" y1="306.50" x2="192.00" y2="306.50" stroke="#bb1739" stroke-width="1.2"/>
<line x1="188.20" y1="344.60" x2="192.00" y2="344.60" stroke="#bb1739" stroke-width="1.2"/>
<line x1="206.80" y1="311.00" x2="206.80" y2="360.50" stroke="#bb1739" stroke-width="1.2"/>
<line x1="204.90" y1="311.00" x2="208.70" y2="311.00" stroke="#bb1739" stroke-width="1.2"/>
<line x1="204.90" y1="360.50" x2="208.70" y2="360.50" stroke="#bb1739" stroke-width="1.2"/>
<line x1="240.00" y1="319.10" x2="240.00" y2="335.00" stroke="#bb1739" stroke-width="1.2"/>
<line x1="238.10" y1="319.10" x2="241.90" y2="319.10" stroke="#bb1739" stroke-width="1.2"/>
<line x1="238.10" y1="335.00" x2="241.90" y2="335.00" stroke="#bb1739" stroke-width="1.2"/>
<line x1="66.30" y1="329.40" x2="66.30" y2="353.60" stroke="#1c4466" stroke-width="1.2"/>
<line x1="64.40" y1="329.40" x2="68.20" y2="329.40" stroke="#1c4466" stroke-width="1.2"/>
<line x1="64.40" y1="353.60" x2="68.20" y2="353.60" stroke="#1c4466" stroke-width="1.2"/>
<line x1="74.60" y1="322.30" x2="74.60" y2="344.40" stroke="#1c4466" stroke-width="1.2"/>
<line x1="72.70" y1="322.30" x2="76.50" y2="322.30" stroke="#1c4466" stroke-width="1.2"/>
<line x1="72.70" y1="344.40" x2="76.50" y2="344.40" stroke="#1c4466" stroke-width="1.2"/>
<line x1="124.00" y1="302.00" x2="124.00" y2="327.50" stroke="#1c4466" stroke-width="1.2"/>
<line x1="122.10" y1="302.00" x2="125.90" y2="302.00" stroke="#1c4466" stroke-width="1.2"/>
<line x1="122.10" y1="327.50" x2="125.90" y2="327.50" stroke="#1c4466" stroke-width="1.2"/>
<line x1="173.60" y1="304.50" x2="173.60" y2="329.30" stroke="#1c4466" stroke-width="1.2"/>
<line x1="171.70" y1="304.50" x2="175.50" y2="304.50" stroke="#1c4466" stroke-width="1.2"/>
<line x1="171.70" y1="329.30" x2="175.50" y2="329.30" stroke="#1c4466" stroke-width="1.2"/>
<line x1="175.70" y1="298.80" x2="175.70" y2="333.00" stroke="#1c4466" stroke-width="1.2"/>
<line x1="173.80" y1="298.80" x2="177.60" y2="298.80" stroke="#1c4466" stroke-width="1.2"/>
<line x1="173.80" y1="333.00" x2="177.60" y2="333.00" stroke="#1c4466" stroke-width="1.2"/>
<line x1="182.00" y1="298.80" x2="182.00" y2="332.40" stroke="#1c4466" stroke-width="1.2"/>
<line x1="180.10" y1="298.80" x2="183.90" y2="298.80" stroke="#1c4466" stroke-width="1.2"/>
<line x1="180.10" y1="332.40" x2="183.90" y2="332.40" stroke="#1c4466" stroke-width="1.2"/>
<line x1="190.10" y1="318.70" x2="190.10" y2="327.00" stroke="#1c4466" stroke-width="1.2"/>
<line x1="188.20" y1="318.70" x2="192.00" y2="318.70" stroke="#1c4466" stroke-width="1.2"/>
<line x1="188.20" y1="327.00" x2="192.00" y2="327.00" stroke="#1c4466" stroke-width="1.2"/>
<line x1="206.80" y1="309.00" x2="206.80" y2="342.20" stroke="#1c4466" stroke-width="1.2"/>
<line x1="204.90" y1="309.00" x2="208.70" y2="309.00" stroke="#1c4466" stroke-width="1.2"/>
<line x1="204.90" y1="342.20" x2="208.70" y2="342.20" stroke="#1c4466" stroke-width="1.2"/>
<line x1="240.00" y1="319.50" x2="240.00" y2="347.20" stroke="#1c4466" stroke-width="1.2"/>
<line x1="238.10" y1="319.50" x2="241.90" y2="319.50" stroke="#1c4466" stroke-width="1.2"/>
<line x1="238.10" y1="347.20" x2="241.90" y2="347.20" stroke="#1c4466" stroke-width="1.2"/>
<polyline points="66.30,341.50 74.60,332.90 124.00,314.60 173.60,314.70 175.70,319.10 182.00,315.50 190.10,322.80 206.80,325.70 240.00,333.00" fill="none" stroke="#1c4466" stroke-width="1.2" stroke-linejoin="round"/>
<polyline points="66.30,349.20 74.60,333.00 124.00,332.00 173.60,320.60 175.70,319.80 182.00,315.50 190.10,325.20 206.80,335.80 240.00,326.90" fill="none" stroke="#bb1739" stroke-width="1.2" stroke-linejoin="round"/>
<circle cx="66.30" cy="341.50" r="2.0" fill="#1c4466"/>
<circle cx="74.60" cy="332.90" r="2.0" fill="#1c4466"/>
<circle cx="124.00" cy="314.60" r="2.0" fill="#1c4466"/>
<circle cx="173.60" cy="314.70" r="2.0" fill="#1c4466"/>
<circle cx="175.70" cy="319.10" r="2.0" fill="#1c4466"/>
<circle cx="182.00" cy="315.50" r="2.0" fill="#1c4466"/>
<circle cx="190.10" cy="322.80" r="2.0" fill="#1c4466"/>
<circle cx="206.80" cy="325.70" r="2.0" fill="#1c4466"/>
<circle cx="240.00" cy="333.00" r="2.0" fill="#1c4466"/>
<rect x="64.40" y="347.30" width="3.8" height="3.8" fill="#bb1739"/>
<rect x="72.70" y="331.10" width="3.8" height="3.8" fill="#bb1739"/>
<rect x="122.10" y="330.10" width="3.8" height="3.8" fill="#bb1739"/>
<rect x="171.70" y="318.70" width="3.8" height="3.8" fill="#bb1739"/>
<rect x="173.80" y="317.90" width="3.8" height="3.8" fill="#bb1739"/>
<rect x="180.10" y="313.60" width="3.8" height="3.8" fill="#bb1739"/>
<rect x="188.20" y="323.30" width="3.8" height="3.8" fill="#bb1739"/>
<rect x="204.90" y="333.90" width="3.8" height="3.8" fill="#bb1739"/>
<rect x="238.10" y="325.00" width="3.8" height="3.8" fill="#bb1739"/>
<line x1="67.70" y1="279.80" x2="80.80" y2="279.80" stroke="#1c4466" stroke-width="1.2"/>
<circle cx="74.30" cy="279.80" r="1.5" fill="#1c4466"/>
<text x="84.30" y="282.30" font-size="7.3" textLength="51.90" lengthAdjust="spacingAndGlyphs">MAD1 (300 mg)</text>
<line x1="67.70" y1="290.90" x2="80.80" y2="290.90" stroke="#bb1739" stroke-width="1.2"/>
<rect x="72.80" y="289.40" width="3.0" height="3.0" fill="#bb1739"/>
<text x="84.30" y="293.40" font-size="7.3" textLength="51.90" lengthAdjust="spacingAndGlyphs">MAD2 (600 mg)</text>
<text x="275.60" y="240.90" font-size="11.8" font-weight="bold" fill="#000" style="fill:#000;stroke:#000;stroke-width:0.3">D</text>
<text x="399.20" y="246.90" font-size="9.4" textLength="37.00" lengthAdjust="spacingAndGlyphs">ATP (OL)</text>
<line x1="326.30" y1="259.20" x2="326.30" y2="383.30" stroke="#1e1e1e" stroke-width="1.15"/>
<line x1="323.50" y1="261.30" x2="326.30" y2="261.30" stroke="#1e1e1e" stroke-width="1.0"/>
<text x="320.40" y="264.00" font-size="7.6" text-anchor="end" textLength="18.00" lengthAdjust="spacingAndGlyphs">6000</text>
<line x1="323.50" y1="285.70" x2="326.30" y2="285.70" stroke="#1e1e1e" stroke-width="1.0"/>
<text x="320.40" y="288.40" font-size="7.6" text-anchor="end" textLength="18.00" lengthAdjust="spacingAndGlyphs">5000</text>
<line x1="323.50" y1="309.80" x2="326.30" y2="309.80" stroke="#1e1e1e" stroke-width="1.0"/>
<text x="320.40" y="312.50" font-size="7.6" text-anchor="end" textLength="18.00" lengthAdjust="spacingAndGlyphs">4000</text>
<line x1="323.50" y1="334.00" x2="326.30" y2="334.00" stroke="#1e1e1e" stroke-width="1.0"/>
<text x="320.40" y="336.70" font-size="7.6" text-anchor="end" textLength="18.00" lengthAdjust="spacingAndGlyphs">3000</text>
<line x1="323.50" y1="358.20" x2="326.30" y2="358.20" stroke="#1e1e1e" stroke-width="1.0"/>
<text x="320.40" y="360.90" font-size="7.6" text-anchor="end" textLength="18.00" lengthAdjust="spacingAndGlyphs">2000</text>
<line x1="323.50" y1="382.60" x2="326.30" y2="382.60" stroke="#1e1e1e" stroke-width="1.0"/>
<text x="320.40" y="385.30" font-size="7.6" text-anchor="end" textLength="18.00" lengthAdjust="spacingAndGlyphs">1000</text>
<text x="296.80" y="357.80" font-size="9.0" textLength="76.50" lengthAdjust="spacingAndGlyphs" transform="rotate(-90 296.80 357.80)" style="stroke-width:0.35">Mean (±SD) ATP, µg/gHb</text>
<line x1="324.00" y1="382.80" x2="508.60" y2="382.80" stroke="#1e1e1e" stroke-width="1.15"/>
<line x1="326.40" y1="382.80" x2="326.40" y2="385.90" stroke="#1e1e1e" stroke-width="1.0"/>
<text x="326.40" y="395.60" font-size="7.6" text-anchor="middle" textLength="4.50" lengthAdjust="spacingAndGlyphs">0</text>
<line x1="348.95" y1="382.80" x2="348.95" y2="385.90" stroke="#1e1e1e" stroke-width="1.0"/>
<text x="348.95" y="395.60" font-size="7.6" text-anchor="middle" textLength="9.00" lengthAdjust="spacingAndGlyphs">14</text>
<line x1="371.50" y1="382.80" x2="371.50" y2="385.90" stroke="#1e1e1e" stroke-width="1.0"/>
<text x="371.50" y="395.60" font-size="7.6" text-anchor="middle" textLength="9.00" lengthAdjust="spacingAndGlyphs">28</text>
<line x1="394.05" y1="382.80" x2="394.05" y2="385.90" stroke="#1e1e1e" stroke-width="1.0"/>
<text x="394.05" y="395.60" font-size="7.6" text-anchor="middle" textLength="9.00" lengthAdjust="spacingAndGlyphs">42</text>
<line x1="416.60" y1="382.80" x2="416.60" y2="385.90" stroke="#1e1e1e" stroke-width="1.0"/>
<text x="416.60" y="395.60" font-size="7.6" text-anchor="middle" textLength="9.00" lengthAdjust="spacingAndGlyphs">56</text>
<line x1="439.15" y1="382.80" x2="439.15" y2="385.90" stroke="#1e1e1e" stroke-width="1.0"/>
<text x="439.15" y="395.60" font-size="7.6" text-anchor="middle" textLength="9.00" lengthAdjust="spacingAndGlyphs">70</text>
<line x1="461.70" y1="382.80" x2="461.70" y2="385.90" stroke="#1e1e1e" stroke-width="1.0"/>
<text x="461.70" y="395.60" font-size="7.6" text-anchor="middle" textLength="9.00" lengthAdjust="spacingAndGlyphs">84</text>
<line x1="484.25" y1="382.80" x2="484.25" y2="385.90" stroke="#1e1e1e" stroke-width="1.0"/>
<text x="484.25" y="395.60" font-size="7.6" text-anchor="middle" textLength="9.00" lengthAdjust="spacingAndGlyphs">98</text>
<line x1="506.80" y1="382.80" x2="506.80" y2="385.90" stroke="#1e1e1e" stroke-width="1.0"/>
<text x="506.80" y="395.60" font-size="7.6" text-anchor="middle" textLength="13.50" lengthAdjust="spacingAndGlyphs">112</text>
<text x="402.70" y="408.20" font-size="9.2" textLength="30.30" lengthAdjust="spacingAndGlyphs" style="stroke-width:0.35">Time, days</text>
<line x1="328.20" y1="399.30" x2="328.20" y2="411.40" stroke="#111" stroke-width="1.05"/>
<path d="M325.60,402.60 L328.20,396.30 L330.80,402.60 L328.20,401.40 Z" fill="#111"/>
<line x1="464.60" y1="399.30" x2="464.60" y2="411.40" stroke="#111" stroke-width="1.05"/>
<path d="M462.00,402.60 L464.60,396.30 L467.20,402.60 L464.60,401.40 Z" fill="#111"/>
<text x="327.20" y="421.90" font-size="7.6" text-anchor="middle" textLength="9.60" lengthAdjust="spacingAndGlyphs">BL</text>
<text x="457.60" y="421.90" font-size="7.6" textLength="49.70" lengthAdjust="spacingAndGlyphs">EOT (D84/85)</text>
<text x="306.50" y="433.90" font-size="7.4" textLength="23.60" lengthAdjust="spacingAndGlyphs">n = 13</text>
<text x="336.00" y="433.90" font-size="7.4" text-anchor="middle">12</text>
<text x="349.00" y="433.90" font-size="7.4" text-anchor="middle">13</text>
<text x="371.30" y="433.90" font-size="7.4" text-anchor="middle">11</text>
<text x="416.30" y="433.90" font-size="7.4" text-anchor="middle">10</text>
<text x="464.60" y="433.90" font-size="7.4" text-anchor="middle">11</text>
<text x="506.30" y="433.90" font-size="7.4" text-anchor="middle">10</text>
<text x="335.80" y="372.20" font-size="6.2" textLength="135.20" lengthAdjust="spacing" style="stroke-width:0.12">mean CFB (EOT) = +1939.4 µg/gHb (<tspan font-style="italic">P</tspan> &lt; .0001)</text>
<line x1="467.70" y1="351.70" x2="467.70" y2="359.40" stroke="#111" stroke-width="1.05"/>
<path d="M465.90,352.70 L467.70,348.70 L469.50,352.70 L467.70,351.50 Z" fill="#111"/>
<line x1="328.20" y1="333.80" x2="328.20" y2="380.10" stroke="#2f7d62" stroke-width="1.25"/>
<line x1="326.20" y1="333.80" x2="330.20" y2="333.80" stroke="#2f7d62" stroke-width="1.25"/>
<line x1="326.20" y1="380.10" x2="330.20" y2="380.10" stroke="#2f7d62" stroke-width="1.25"/>
<line x1="330.30" y1="326.50" x2="330.30" y2="359.80" stroke="#2f7d62" stroke-width="1.25"/>
<line x1="328.30" y1="326.50" x2="332.30" y2="326.50" stroke="#2f7d62" stroke-width="1.25"/>
<line x1="328.30" y1="359.80" x2="332.30" y2="359.80" stroke="#2f7d62" stroke-width="1.25"/>
<line x1="348.80" y1="297.30" x2="348.80" y2="357.00" stroke="#2f7d62" stroke-width="1.25"/>
<line x1="346.80" y1="297.30" x2="350.80" y2="297.30" stroke="#2f7d62" stroke-width="1.25"/>
<line x1="346.80" y1="357.00" x2="350.80" y2="357.00" stroke="#2f7d62" stroke-width="1.25"/>
<line x1="371.20" y1="290.40" x2="371.20" y2="331.30" stroke="#2f7d62" stroke-width="1.25"/>
<line x1="369.20" y1="290.40" x2="373.20" y2="290.40" stroke="#2f7d62" stroke-width="1.25"/>
<line x1="369.20" y1="331.30" x2="373.20" y2="331.30" stroke="#2f7d62" stroke-width="1.25"/>
<line x1="416.20" y1="285.00" x2="416.20" y2="340.40" stroke="#2f7d62" stroke-width="1.25"/>
<line x1="414.20" y1="285.00" x2="418.20" y2="285.00" stroke="#2f7d62" stroke-width="1.25"/>
<line x1="414.20" y1="340.40" x2="418.20" y2="340.40" stroke="#2f7d62" stroke-width="1.25"/>
<line x1="461.20" y1="292.00" x2="461.20" y2="347.60" stroke="#2f7d62" stroke-width="1.25"/>
<line x1="459.20" y1="292.00" x2="463.20" y2="292.00" stroke="#2f7d62" stroke-width="1.25"/>
<line x1="459.20" y1="347.60" x2="463.20" y2="347.60" stroke="#2f7d62" stroke-width="1.25"/>
<line x1="463.00" y1="282.20" x2="463.00" y2="347.00" stroke="#2f7d62" stroke-width="1.25"/>
<line x1="461.00" y1="282.20" x2="465.00" y2="282.20" stroke="#2f7d62" stroke-width="1.25"/>
<line x1="461.00" y1="347.00" x2="465.00" y2="347.00" stroke="#2f7d62" stroke-width="1.25"/>
<line x1="467.30" y1="292.00" x2="467.30" y2="342.60" stroke="#2f7d62" stroke-width="1.25"/>
<line x1="465.30" y1="292.00" x2="469.30" y2="292.00" stroke="#2f7d62" stroke-width="1.25"/>
<line x1="465.30" y1="342.60" x2="469.30" y2="342.60" stroke="#2f7d62" stroke-width="1.25"/>
<line x1="472.10" y1="304.20" x2="472.10" y2="346.90" stroke="#2f7d62" stroke-width="1.25"/>
<line x1="470.10" y1="304.20" x2="474.10" y2="304.20" stroke="#2f7d62" stroke-width="1.25"/>
<line x1="470.10" y1="346.90" x2="474.10" y2="346.90" stroke="#2f7d62" stroke-width="1.25"/>
<line x1="483.10" y1="308.40" x2="483.10" y2="344.80" stroke="#2f7d62" stroke-width="1.25"/>
<line x1="481.10" y1="308.40" x2="485.10" y2="308.40" stroke="#2f7d62" stroke-width="1.25"/>
<line x1="481.10" y1="344.80" x2="485.10" y2="344.80" stroke="#2f7d62" stroke-width="1.25"/>
<line x1="506.00" y1="320.40" x2="506.00" y2="351.20" stroke="#2f7d62" stroke-width="1.25"/>
<line x1="504.00" y1="320.40" x2="508.00" y2="320.40" stroke="#2f7d62" stroke-width="1.25"/>
<line x1="504.00" y1="351.20" x2="508.00" y2="351.20" stroke="#2f7d62" stroke-width="1.25"/>
<line x1="461.20" y1="292.00" x2="461.20" y2="347.60" stroke="#115c42" stroke-width="2.4"/>
<line x1="328.60" y1="335.00" x2="328.60" y2="370.00" stroke="#115c42" stroke-width="2.0"/>
<polyline points="328.20,357.80 330.30,343.20 348.80,327.10 371.20,311.00 416.20,312.70 461.20,319.30 463.00,315.50 467.30,317.00 472.10,325.80 483.10,326.70 506.00,335.60" fill="none" stroke="#115c42" stroke-width="1.3" stroke-linejoin="round"/>
<circle cx="328.20" cy="357.80" r="2.15" fill="#115c42"/>
<circle cx="330.30" cy="343.20" r="2.15" fill="#115c42"/>
<circle cx="348.80" cy="327.10" r="2.15" fill="#115c42"/>
<circle cx="371.20" cy="311.00" r="2.15" fill="#115c42"/>
<circle cx="416.20" cy="312.70" r="2.15" fill="#115c42"/>
<circle cx="461.20" cy="319.30" r="2.15" fill="#115c42"/>
<circle cx="463.00" cy="315.50" r="2.15" fill="#115c42"/>
<circle cx="467.30" cy="317.00" r="2.15" fill="#115c42"/>
<circle cx="472.10" cy="325.80" r="2.15" fill="#115c42"/>
<circle cx="483.10" cy="326.70" r="2.15" fill="#115c42"/>
<circle cx="506.00" cy="335.60" r="2.15" fill="#115c42"/>
<circle cx="348.80" cy="293.40" r="0.8" fill="#222"/>
<circle cx="371.20" cy="286.20" r="0.8" fill="#222"/>
<circle cx="416.20" cy="281.00" r="0.8" fill="#222"/>
<circle cx="462.30" cy="277.80" r="0.8" fill="#222"/>
<circle cx="467.30" cy="287.30" r="0.8" fill="#222"/>
<circle cx="456.80" cy="312.00" r="0.8" fill="#222"/>
<text x="7.00" y="471.30" font-size="11.8" font-weight="bold" fill="#000" style="fill:#000;stroke:#000;stroke-width:0.3">E</text>
<polygon points="72,522 181,481.3 181,543 72,589.5" fill="#f6f6f6"/>
<line x1="58.00" y1="478.30" x2="58.00" y2="603.10" stroke="#1e1e1e" stroke-width="1.15"/>
<line x1="55.20" y1="481.30" x2="58.00" y2="481.30" stroke="#1e1e1e" stroke-width="1.0"/>
<text x="52.40" y="484.00" font-size="7.6" text-anchor="end" textLength="9.20" lengthAdjust="spacingAndGlyphs">35</text>
<line x1="55.20" y1="521.80" x2="58.00" y2="521.80" stroke="#1e1e1e" stroke-width="1.0"/>
<text x="52.40" y="524.50" font-size="7.6" text-anchor="end" textLength="9.20" lengthAdjust="spacingAndGlyphs">30</text>
<line x1="55.20" y1="562.20" x2="58.00" y2="562.20" stroke="#1e1e1e" stroke-width="1.0"/>
<text x="52.40" y="564.90" font-size="7.6" text-anchor="end" textLength="9.20" lengthAdjust="spacingAndGlyphs">25</text>
<line x1="55.20" y1="602.60" x2="58.00" y2="602.60" stroke="#1e1e1e" stroke-width="1.0"/>
<text x="52.40" y="605.30" font-size="7.6" text-anchor="end" textLength="9.20" lengthAdjust="spacingAndGlyphs">20</text>
<text font-size="7.9" transform="translate(38.3 555.9) rotate(-90) scale(0.81 1)" style="stroke-width:0.15">P<tspan font-size="5.2" dy="1.5">50</tspan><tspan dy="-1.5">, mmHg</tspan></text>
<line x1="55.50" y1="602.60" x2="183.80" y2="602.60" stroke="#1e1e1e" stroke-width="1.15"/>
<line x1="58.00" y1="602.60" x2="58.00" y2="605.70" stroke="#1e1e1e" stroke-width="1.0"/>
<text x="58.00" y="615.30" font-size="7.6" text-anchor="middle" textLength="18.00" lengthAdjust="spacingAndGlyphs">2000</text>
<line x1="96.60" y1="602.60" x2="96.60" y2="605.70" stroke="#1e1e1e" stroke-width="1.0"/>
<text x="96.60" y="615.30" font-size="7.6" text-anchor="middle" textLength="18.00" lengthAdjust="spacingAndGlyphs">4000</text>
<line x1="135.20" y1="602.60" x2="135.20" y2="605.70" stroke="#1e1e1e" stroke-width="1.0"/>
<text x="135.20" y="615.30" font-size="7.6" text-anchor="middle" textLength="18.00" lengthAdjust="spacingAndGlyphs">6000</text>
<line x1="173.80" y1="602.60" x2="173.80" y2="605.70" stroke="#1e1e1e" stroke-width="1.0"/>
<text x="173.80" y="615.30" font-size="7.6" text-anchor="middle" textLength="18.00" lengthAdjust="spacingAndGlyphs">8000</text>
<text x="95.50" y="628.60" font-size="8.6" textLength="51.60" lengthAdjust="spacingAndGlyphs" style="stroke-width:0.35">2,3-DPG, µg/gHb</text>
<line x1="72.00" y1="556.50" x2="181.00" y2="508.50" stroke="#1a1a1a" stroke-width="1.15"/>
<rect x="108.40" y="502.20" width="4.0" height="4.0" fill="#b5102f"/>
<rect x="83.80" y="524.20" width="4.0" height="4.0" fill="#b5102f"/>
<rect x="89.60" y="525.70" width="4.0" height="4.0" fill="#b5102f"/>
<rect x="90.70" y="528.30" width="4.0" height="4.0" fill="#b5102f"/>
<rect x="105.30" y="529.20" width="4.0" height="4.0" fill="#b5102f"/>
<rect x="111.90" y="532.30" width="4.0" height="4.0" fill="#b5102f"/>
<rect x="91.20" y="541.50" width="4.0" height="4.0" fill="#b5102f"/>
<rect x="97.60" y="542.30" width="4.0" height="4.0" fill="#b5102f"/>
<rect x="102.50" y="539.10" width="4.0" height="4.0" fill="#b5102f"/>
<rect x="106.10" y="538.80" width="4.0" height="4.0" fill="#b5102f"/>
<rect x="110.40" y="542.30" width="4.0" height="4.0" fill="#b5102f"/>
<rect x="98.40" y="546.50" width="4.0" height="4.0" fill="#b5102f"/>
<rect x="104.50" y="546.50" width="4.0" height="4.0" fill="#b5102f"/>
<rect x="97.30" y="550.00" width="4.0" height="4.0" fill="#b5102f"/>
<rect x="79.90" y="551.80" width="4.0" height="4.0" fill="#b5102f"/>
<rect x="79.90" y="554.20" width="4.0" height="4.0" fill="#b5102f"/>
<rect x="95.30" y="555.40" width="4.0" height="4.0" fill="#b5102f"/>
<rect x="118.80" y="552.90" width="4.0" height="4.0" fill="#b5102f"/>
<rect x="75.80" y="560.30" width="4.0" height="4.0" fill="#b5102f"/>
<rect x="86.80" y="558.00" width="4.0" height="4.0" fill="#b5102f"/>
<rect x="95.80" y="560.30" width="4.0" height="4.0" fill="#b5102f"/>
<rect x="91.80" y="566.20" width="4.0" height="4.0" fill="#b5102f"/>
<rect x="101.90" y="566.20" width="4.0" height="4.0" fill="#b5102f"/>
<rect x="69.90" y="568.80" width="4.0" height="4.0" fill="#b5102f"/>
<rect x="72.70" y="568.80" width="4.0" height="4.0" fill="#b5102f"/>
<rect x="112.20" y="569.80" width="4.0" height="4.0" fill="#b5102f"/>
<rect x="124.50" y="569.20" width="4.0" height="4.0" fill="#b5102f"/>
<rect x="89.20" y="574.50" width="4.0" height="4.0" fill="#b5102f"/>
<circle cx="99.90" cy="485.70" r="2.1" fill="#1a2f4c"/>
<circle cx="123.20" cy="510.30" r="2.1" fill="#1a2f4c"/>
<circle cx="129.30" cy="503.50" r="2.1" fill="#1a2f4c"/>
<circle cx="131.50" cy="503.50" r="2.1" fill="#1a2f4c"/>
<circle cx="128.50" cy="513.40" r="2.1" fill="#1a2f4c"/>
<circle cx="127.30" cy="515.80" r="2.1" fill="#1a2f4c"/>
<circle cx="131.90" cy="523.80" r="2.1" fill="#1a2f4c"/>
<circle cx="100.10" cy="532.80" r="2.1" fill="#1a2f4c"/>
<circle cx="134.20" cy="533.40" r="2.1" fill="#1a2f4c"/>
<circle cx="155.40" cy="495.70" r="2.1" fill="#1a2f4c"/>
<circle cx="151.10" cy="508.50" r="2.1" fill="#1a2f4c"/>
<circle cx="145.10" cy="510.30" r="2.1" fill="#1a2f4c"/>
<circle cx="136.50" cy="513.50" r="2.1" fill="#1a2f4c"/>
<circle cx="137.00" cy="515.60" r="2.1" fill="#1a2f4c"/>
<circle cx="168.20" cy="510.80" r="2.1" fill="#1a2f4c"/>
<circle cx="170.00" cy="511.20" r="2.1" fill="#1a2f4c"/>
<circle cx="160.80" cy="516.50" r="2.1" fill="#1a2f4c"/>
<circle cx="138.00" cy="522.30" r="2.1" fill="#1a2f4c"/>
<circle cx="139.50" cy="522.60" r="2.1" fill="#1a2f4c"/>
<circle cx="180.80" cy="524.60" r="2.1" fill="#1a2f4c"/>
<circle cx="136.50" cy="535.80" r="2.1" fill="#1a2f4c"/>
<circle cx="152.30" cy="531.80" r="2.1" fill="#1a2f4c"/>
<circle cx="173.10" cy="541.30" r="2.1" fill="#1a2f4c"/>
<circle cx="173.80" cy="552.60" r="2.1" fill="#1a2f4c"/>
<circle cx="117.30" cy="552.00" r="2.1" fill="#1a2f4c"/>
<circle cx="100.40" cy="555.10" r="2.1" fill="#1a2f4c"/>
<circle cx="195.10" cy="567.00" r="1.9" fill="#1a2f4c"/>
<text x="200.00" y="569.40" font-size="7.6" textLength="27.20" lengthAdjust="spacingAndGlyphs">Baseline</text>
<rect x="193.30" y="576.30" width="3.6" height="3.6" fill="#b5102f"/>
<text x="200.00" y="580.70" font-size="7.6" textLength="59.20" lengthAdjust="spacingAndGlyphs">24h after last dose</text>
<text x="274.80" y="471.60" font-size="11.8" font-weight="bold" fill="#000" style="fill:#000;stroke:#000;stroke-width:0.3">F</text>
<text x="356.4" y="477.4" font-size="8.9">P<tspan font-size="6.9" dy="2.2" dx="0.4">50</tspan></text>
<text x="346.9" y="498.8" font-size="7.2" textLength="33.9" lengthAdjust="spacingAndGlyphs"><tspan font-style="italic">P</tspan> = .0007</text>
<line x1="326.20" y1="486.20" x2="326.20" y2="603.00" stroke="#1e1e1e" stroke-width="1.15"/>
<line x1="323.40" y1="488.90" x2="326.20" y2="488.90" stroke="#1e1e1e" stroke-width="1.0"/>
<text x="320.40" y="491.60" font-size="7.6" text-anchor="end" textLength="9.20" lengthAdjust="spacingAndGlyphs">40</text>
<line x1="323.40" y1="517.30" x2="326.20" y2="517.30" stroke="#1e1e1e" stroke-width="1.0"/>
<text x="320.40" y="520.00" font-size="7.6" text-anchor="end" textLength="9.20" lengthAdjust="spacingAndGlyphs">35</text>
<line x1="323.40" y1="545.70" x2="326.20" y2="545.70" stroke="#1e1e1e" stroke-width="1.0"/>
<text x="320.40" y="548.40" font-size="7.6" text-anchor="end" textLength="9.20" lengthAdjust="spacingAndGlyphs">30</text>
<line x1="323.40" y1="574.10" x2="326.20" y2="574.10" stroke="#1e1e1e" stroke-width="1.0"/>
<text x="320.40" y="576.80" font-size="7.6" text-anchor="end" textLength="9.20" lengthAdjust="spacingAndGlyphs">25</text>
<line x1="323.40" y1="602.50" x2="326.20" y2="602.50" stroke="#1e1e1e" stroke-width="1.0"/>
<text x="320.40" y="605.20" font-size="7.6" text-anchor="end" textLength="9.20" lengthAdjust="spacingAndGlyphs">20</text>
<text font-size="7.9" transform="translate(307.0 560.1) rotate(-90) scale(0.835 1)" style="stroke-width:0.15">P<tspan font-size="5.2" dy="1.5">50</tspan><tspan dy="-1.5">, mmHg</tspan></text>
<line x1="326.20" y1="602.50" x2="401.40" y2="602.50" stroke="#1e1e1e" stroke-width="1.0"/>
<line x1="347.50" y1="602.50" x2="347.50" y2="605.10" stroke="#1e1e1e" stroke-width="0.9"/>
<line x1="379.60" y1="602.50" x2="379.60" y2="605.10" stroke="#1e1e1e" stroke-width="0.9"/>
<text x="347.50" y="615.20" font-size="7.8" text-anchor="middle" textLength="9.40" lengthAdjust="spacingAndGlyphs">BL</text>
<text x="379.40" y="615.20" font-size="7.8" text-anchor="middle" textLength="15.30" lengthAdjust="spacingAndGlyphs">EOT</text>
<text x="308.80" y="627.20" font-size="7.2" textLength="11.00" lengthAdjust="spacingAndGlyphs">n =</text>
<text x="347.50" y="627.20" font-size="7.6" text-anchor="middle" textLength="8.60" lengthAdjust="spacingAndGlyphs">14</text>
<text x="379.40" y="627.20" font-size="7.6" text-anchor="middle" textLength="8.60" lengthAdjust="spacingAndGlyphs">14</text>
<line x1="347.50" y1="520.00" x2="380.40" y2="533.20" stroke="#be1840" stroke-width="1.25"/>
<line x1="347.50" y1="532.60" x2="380.40" y2="548.30" stroke="#be1840" stroke-width="1.25"/>
<line x1="347.50" y1="537.00" x2="380.40" y2="550.20" stroke="#be1840" stroke-width="1.25"/>
<line x1="347.50" y1="538.90" x2="380.40" y2="552.30" stroke="#be1840" stroke-width="1.25"/>
<line x1="347.50" y1="540.70" x2="380.40" y2="569.00" stroke="#be1840" stroke-width="1.25"/>
<line x1="347.50" y1="543.90" x2="380.40" y2="574.40" stroke="#be1840" stroke-width="1.25"/>
<line x1="347.50" y1="547.00" x2="380.40" y2="578.40" stroke="#be1840" stroke-width="1.25"/>
<line x1="347.50" y1="552.90" x2="380.40" y2="561.20" stroke="#be1840" stroke-width="1.25"/>
<line x1="347.50" y1="559.30" x2="380.40" y2="550.20" stroke="#be1840" stroke-width="1.25"/>
<line x1="347.50" y1="567.10" x2="380.40" y2="578.40" stroke="#be1840" stroke-width="1.25"/>
<line x1="347.50" y1="569.00" x2="380.40" y2="579.60" stroke="#be1840" stroke-width="1.25"/>
<line x1="347.50" y1="538.90" x2="380.40" y2="574.40" stroke="#be1840" stroke-width="1.25"/>
<line x1="347.50" y1="540.70" x2="380.40" y2="579.60" stroke="#be1840" stroke-width="1.25"/>
<line x1="347.50" y1="543.90" x2="380.40" y2="578.40" stroke="#be1840" stroke-width="1.25"/>
<circle cx="347.50" cy="520.00" r="2.0" fill="#b4143a"/>
<circle cx="380.40" cy="533.20" r="2.0" fill="#b4143a"/>
<circle cx="347.50" cy="532.60" r="2.0" fill="#b4143a"/>
<circle cx="380.40" cy="548.30" r="2.0" fill="#b4143a"/>
<circle cx="347.50" cy="537.00" r="2.0" fill="#b4143a"/>
<circle cx="380.40" cy="550.20" r="2.0" fill="#b4143a"/>
<circle cx="347.50" cy="538.90" r="2.0" fill="#b4143a"/>
<circle cx="380.40" cy="552.30" r="2.0" fill="#b4143a"/>
<circle cx="347.50" cy="540.70" r="2.0" fill="#b4143a"/>
<circle cx="380.40" cy="569.00" r="2.0" fill="#b4143a"/>
<circle cx="347.50" cy="543.90" r="2.0" fill="#b4143a"/>
<circle cx="380.40" cy="574.40" r="2.0" fill="#b4143a"/>
<circle cx="347.50" cy="547.00" r="2.0" fill="#b4143a"/>
<circle cx="380.40" cy="578.40" r="2.0" fill="#b4143a"/>
<circle cx="347.50" cy="552.90" r="2.0" fill="#b4143a"/>
<circle cx="380.40" cy="561.20" r="2.0" fill="#b4143a"/>
<circle cx="347.50" cy="559.30" r="2.0" fill="#b4143a"/>
<circle cx="380.40" cy="550.20" r="2.0" fill="#b4143a"/>
<circle cx="347.50" cy="567.10" r="2.0" fill="#b4143a"/>
<circle cx="380.40" cy="578.40" r="2.0" fill="#b4143a"/>
<circle cx="347.50" cy="569.00" r="2.0" fill="#b4143a"/>
<circle cx="380.40" cy="579.60" r="2.0" fill="#b4143a"/>
<circle cx="347.50" cy="538.90" r="2.0" fill="#b4143a"/>
<circle cx="380.40" cy="574.40" r="2.0" fill="#b4143a"/>
<circle cx="347.50" cy="540.70" r="2.0" fill="#b4143a"/>
<circle cx="380.40" cy="579.60" r="2.0" fill="#b4143a"/>
<circle cx="347.50" cy="543.90" r="2.0" fill="#b4143a"/>
<circle cx="380.40" cy="578.40" r="2.0" fill="#b4143a"/>
<circle cx="380.40" cy="569.00" r="2.0" fill="#5d8ea0"/>
</svg>
</div>
</body></html>
